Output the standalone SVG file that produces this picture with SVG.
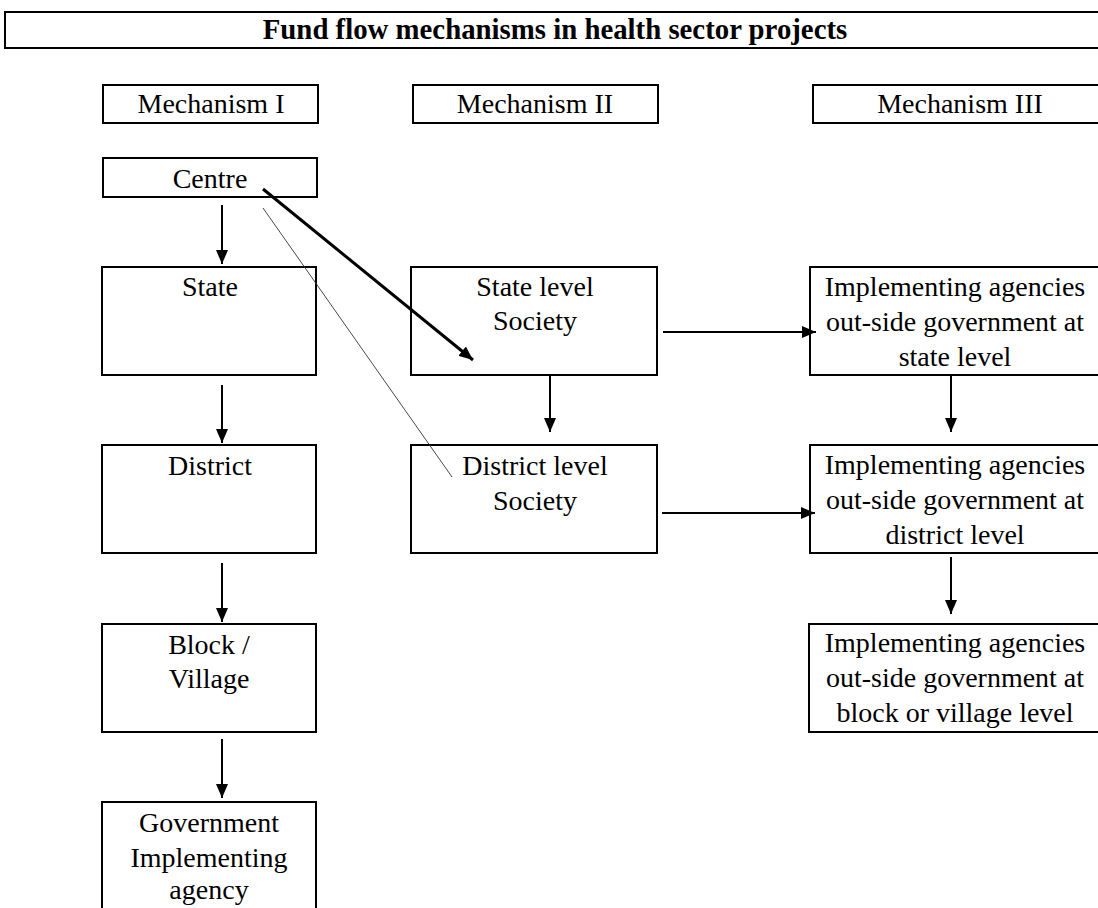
<svg xmlns="http://www.w3.org/2000/svg" width="1098" height="908" viewBox="0 0 1098 908">
<style>
.box{fill:#fff;stroke:#000;stroke-width:2}
.t{font-family:"Liberation Serif","Times New Roman",serif;font-size:28px;fill:#000;text-anchor:middle}
.title{font-family:"Liberation Serif","Times New Roman",serif;font-size:28.8px;font-weight:bold;fill:#000;text-anchor:middle}
.c{stroke:#000;stroke-width:2;fill:none}
</style>
<defs>
<marker id="ah" markerUnits="userSpaceOnUse" markerWidth="14" markerHeight="12" refX="14" refY="6" orient="auto">
<path d="M0,0 L14,6 L0,12 z" fill="#000"/>
</marker>
</defs>
<rect width="1098" height="908" fill="#fff"/>
<g id="title">
<rect class="box" x="5" y="12" width="1100" height="36"/>
<text class="title" x="555" y="39">Fund flow mechanisms in health sector projects</text>
</g>
<g id="mech1"><rect class="box" x="103" y="85" width="215" height="38"/><text class="t" x="211" y="113">Mechanism I</text></g>
<g id="mech2"><rect class="box" x="413" y="85" width="245" height="38"/><text class="t" x="535" y="113">Mechanism II</text></g>
<g id="mech3"><rect class="box" x="813" y="85" width="290" height="38"/><text class="t" x="960" y="113">Mechanism III</text></g>
<g id="centre"><rect class="box" x="103" y="158" width="214" height="39"/><text class="t" x="210" y="188">Centre</text></g>
<g id="state"><rect class="box" x="102" y="267" width="214" height="108"/><text class="t" x="210" y="296">State</text></g>
<g id="district"><rect class="box" x="102" y="445" width="214" height="108"/><text class="t" x="210" y="475">District</text></g>
<g id="block"><rect class="box" x="102" y="624" width="214" height="108"/><text class="t" x="209" y="654">Block /</text><text class="t" x="209" y="688">Village</text></g>
<g id="gov"><rect class="box" x="102" y="802" width="214" height="120"/><text class="t" x="209" y="832">Government</text><text class="t" x="209" y="867">Implementing</text><text class="t" x="209" y="899">agency</text></g>
<g id="state-society"><rect class="box" x="411" y="267" width="246" height="108"/><text class="t" x="535" y="296">State level</text><text class="t" x="535" y="330">Society</text></g>
<g id="district-society"><rect class="box" x="411" y="445" width="246" height="108"/><text class="t" x="535" y="475">District level</text><text class="t" x="535" y="510">Society</text></g>
<g id="ia-state"><rect class="box" x="810" y="267" width="295" height="108"/><text class="t" x="955" y="296">Implementing agencies</text><text class="t" x="955" y="331">out-side government at</text><text class="t" x="955" y="366">state level</text></g>
<g id="ia-district"><rect class="box" x="810" y="445" width="295" height="108"/><text class="t" x="955" y="474">Implementing agencies</text><text class="t" x="955" y="509">out-side government at</text><text class="t" x="955" y="544">district level</text></g>
<g id="ia-block"><rect class="box" x="809" y="624" width="296" height="108"/><text class="t" x="955" y="652">Implementing agencies</text><text class="t" x="955" y="687">out-side government at</text><text class="t" x="955" y="722">block or village level</text></g>
<g id="connectors">
<line class="c" x1="222" y1="205" x2="222" y2="264" marker-end="url(#ah)"/>
<line class="c" x1="222" y1="385" x2="222" y2="443" marker-end="url(#ah)"/>
<line class="c" x1="222" y1="563" x2="222" y2="622" marker-end="url(#ah)"/>
<line class="c" x1="222" y1="739" x2="222" y2="798" marker-end="url(#ah)"/>
<line class="c" x1="550" y1="375" x2="550" y2="432" marker-end="url(#ah)"/>
<line class="c" x1="951" y1="375" x2="951" y2="432" marker-end="url(#ah)"/>
<line class="c" x1="951" y1="557" x2="951" y2="614" marker-end="url(#ah)"/>
<line class="c" x1="663" y1="332" x2="816" y2="332" marker-end="url(#ah)"/>
<line class="c" x1="662" y1="513" x2="815" y2="513" marker-end="url(#ah)"/>
<line x1="263" y1="189" x2="473" y2="360" stroke="#000" stroke-width="3" marker-end="url(#ah)"/>
<line x1="263" y1="208" x2="452" y2="477" stroke="#333" stroke-width="0.9"/>
</g>
</svg>
